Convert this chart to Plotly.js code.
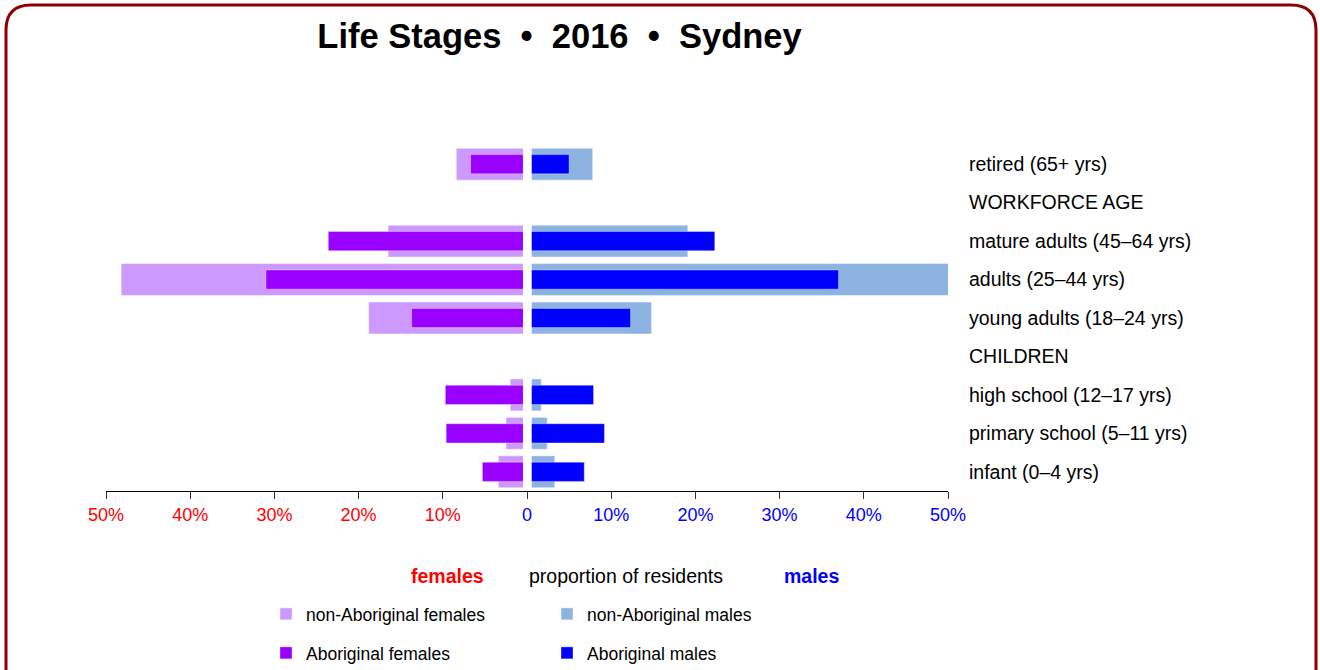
<!DOCTYPE html>
<html>
<head>
<meta charset="utf-8">
<script src="https://cdn.plot.ly/plotly-3.0.1.min.js"></script>
<style>html,body{margin:0;padding:0;background:#fff;}#chart{width:1320px;height:670px;}</style>
</head>
<body>
<div id="chart"></div>
<script>
// ---- data (percent of residents) ----
const categories = [
  "infant (0–4 yrs)",
  "primary school (5–11 yrs)",
  "high school (12–17 yrs)",
  "CHILDREN",
  "young adults (18–24 yrs)",
  "adults (25–44 yrs)",
  "mature adults (45–64 yrs)",
  "WORKFORCE AGE",
  "retired (65+ yrs)"
];
const nonAboriginalFemales = [3.4, 2.5, 2.0, null, 18.8, 48.2, 16.5, null, 8.4];
const aboriginalFemales    = [5.3, 9.6, 9.7, null, 13.7, 31.0, 23.6, null, 6.7];
const nonAboriginalMales   = [3.3, 2.4, 1.7, null, 14.8, 50.2, 19.1, null, 7.8];
const aboriginalMales      = [6.8, 9.2, 7.9, null, 12.3, 37.0, 22.3, null, 5.0];
const tickValues = [-50, -40, -30, -20, -10, 0, 10, 20, 30, 40, 50];
const tickLabels = ["50%", "40%", "30%", "20%", "10%", "0", "10%", "20%", "30%", "40%", "50%"];

// ---- layout helpers (pixel -> paper) ----
const W = 1320, H = 670;
const PL = 106, PR = 948, PT = 145, PB = 491;
const px = x => (x - PL) / (PR - PL);
const py = y => (PB - y) / (PB - PT);

const FONT = "Liberation Sans, Arial, Helvetica, sans-serif";
const neg = arr => arr.map(v => v === null ? null : -v);

const traces = [
  {type: "bar", orientation: "h", name: "non-Aboriginal females", y: categories, x: neg(nonAboriginalFemales),
   width: 0.83, marker: {color: "#CC99FF", line: {color: "rgba(255,255,255,0.45)", width: 1}}, legend: "legend"},
  {type: "bar", orientation: "h", name: "non-Aboriginal males", y: categories, x: nonAboriginalMales,
   width: 0.83, marker: {color: "#8DB3E2", line: {color: "rgba(255,255,255,0.45)", width: 1}}, legend: "legend"},
  {type: "bar", orientation: "h", name: "Aboriginal females", y: categories, x: neg(aboriginalFemales),
   width: 0.5, marker: {color: "#9900FF", line: {color: "rgba(255,255,255,0.35)", width: 1}}, legend: "legend2"},
  {type: "bar", orientation: "h", name: "Aboriginal males", y: categories, x: aboriginalMales,
   width: 0.5, marker: {color: "#0000FF", line: {color: "rgba(255,255,255,0.35)", width: 1}}, legend: "legend2"}
];

const tickText = tickLabels.map((t, i) => {
  const c = tickValues[i] < 0 ? "#FF0000" : "#0000FF";
  return '<span style="color:' + c + '">' + t + '</span>';
});

const S = "\u00a0";
const layout = {
  width: W, height: H,
  margin: {l: PL, r: W - PR, t: PT, b: H - PB, pad: 0, autoexpand: false},
  paper_bgcolor: "#fff", plot_bgcolor: "#fff",
  font: {family: FONT, size: 18, color: "#000"},
  barmode: "overlay",
  showlegend: true,
  title: {
    text: "<b>Life Stages" + S + S + "•" + S + S + "2016" + S + S + "•" + S + S + "Sydney</b>",
    font: {family: FONT, size: 34.5, color: "#000"},
    xref: "container", yref: "container", x: 559.5 / W, xanchor: "center", y: 1 - 36 / H, yanchor: "middle"
  },
  xaxis: {
    range: [-50, 50], fixedrange: true,
    tickmode: "array", tickvals: tickValues, ticktext: tickText,
    ticks: "outside", ticklen: 7, tickwidth: 1, tickcolor: "#333",
    showline: true, linecolor: "#000", linewidth: 1,
    showgrid: false, zeroline: false,
    tickfont: {family: FONT, size: 18}
  },
  yaxis: {
    type: "category", categoryorder: "array", categoryarray: categories,
    range: [-0.5, categories.length - 0.5],
    side: "right", ticks: "", showline: false, showgrid: false, zeroline: false,
    ticklabelstandoff: 20,
    tickfont: {family: FONT, size: 19.5, color: "#000"}
  },
  legend: {
    orientation: "h", x: px(266), xanchor: "left", y: py(614), yanchor: "middle",
    entrywidth: 236, entrywidthmode: "pixels",
    font: {family: FONT, size: 17.5, color: "#000"}, bgcolor: "rgba(0,0,0,0)", borderwidth: 0,
    traceorder: "normal"
  },
  legend2: {
    orientation: "h", x: px(266), xanchor: "left", y: py(653), yanchor: "middle",
    entrywidth: 236, entrywidthmode: "pixels",
    font: {family: FONT, size: 17.5, color: "#000"}, bgcolor: "rgba(0,0,0,0)", borderwidth: 0,
    traceorder: "normal"
  },
  annotations: [
    {xref: "paper", yref: "paper", x: px(447), y: py(576), xanchor: "center", yanchor: "middle", showarrow: false,
     text: "<b>females</b>", font: {family: FONT, size: 19.5, color: "#FF0000"}},
    {xref: "paper", yref: "paper", x: px(626), y: py(576), xanchor: "center", yanchor: "middle", showarrow: false,
     text: "proportion of residents", font: {family: FONT, size: 19.5, color: "#000"}},
    {xref: "paper", yref: "paper", x: px(811), y: py(576), xanchor: "center", yanchor: "middle", showarrow: false,
     text: "<b>males</b>", font: {family: FONT, size: 19.5, color: "#0000FF"}}
  ],
  shapes: [
    // white gap separating the two halves of the pyramid
    {type: "rect", xref: "x", yref: "paper", x0: -0.48, x1: 0.56, y0: 0.005, y1: 1, fillcolor: "#fff",
     line: {width: 0}, layer: "above"},
    // rounded frame
    {type: "path", xref: "paper", yref: "paper", layer: "above",
     line: {color: "#8E0000", width: 3},
     path: "M" + px(6) + "," + py(700) + " L" + px(6) + "," + py(30) +
           " Q" + px(6) + "," + py(5) + " " + px(31) + "," + py(5) +
           " L" + px(1291) + "," + py(5) +
           " Q" + px(1316) + "," + py(5) + " " + px(1316) + "," + py(30) +
           " L" + px(1316) + "," + py(700)}
  ]
};

Plotly.newPlot("chart", traces, layout, {displayModeBar: false, staticPlot: true});
</script>
</body>
</html>
